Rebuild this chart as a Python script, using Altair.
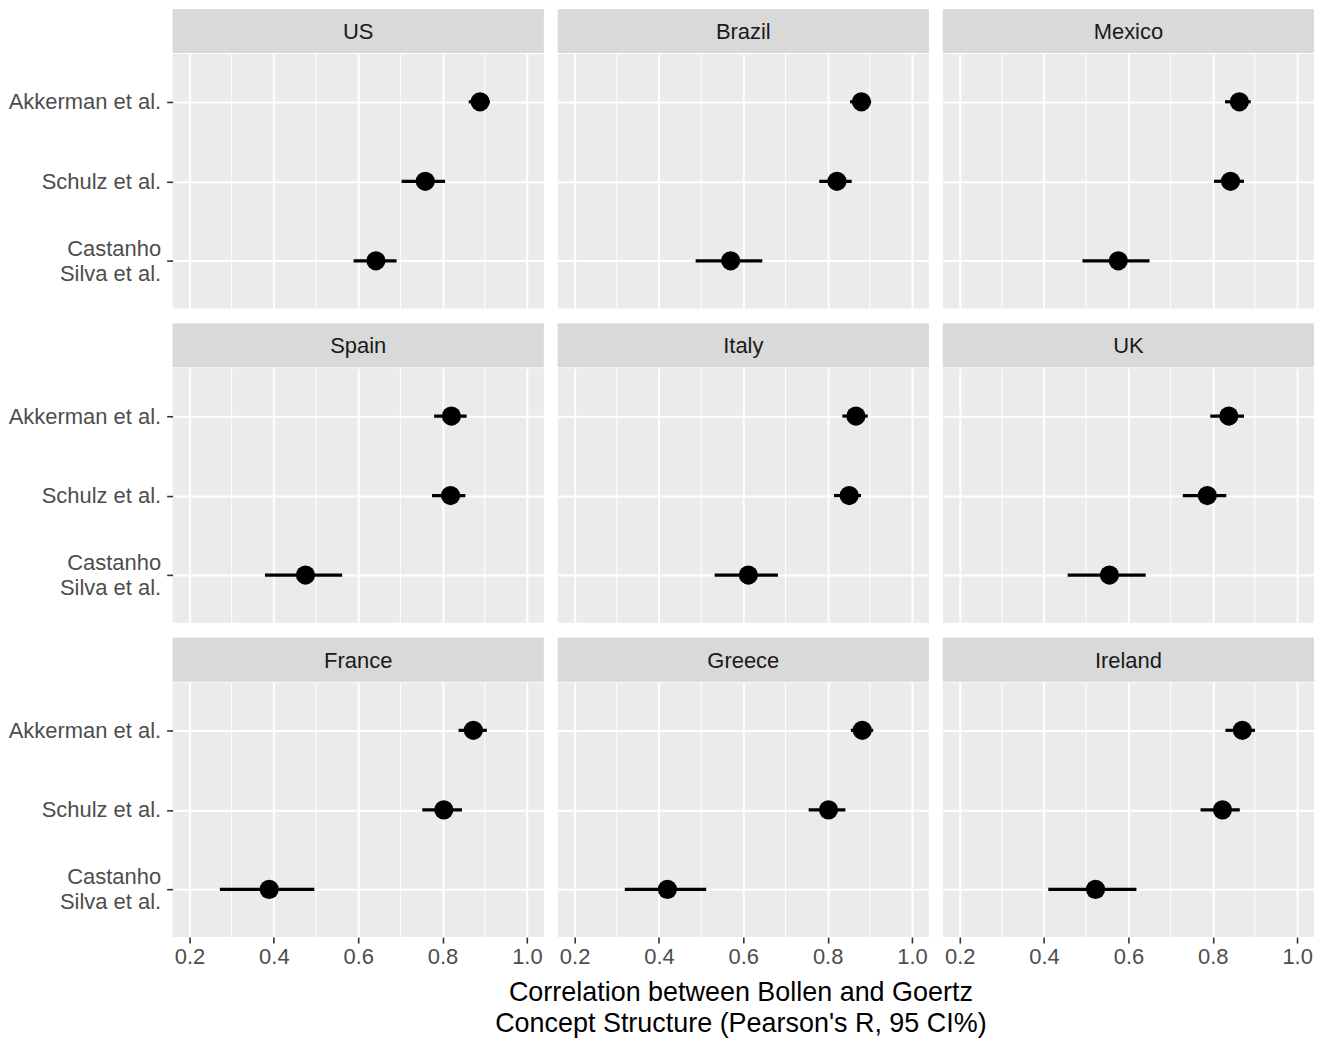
import altair as alt
import pandas as pd

countries = ["US", "Brazil", "Mexico", "Spain", "Italy", "UK", "France", "Greece", "Ireland"]
methods = ["Akkerman et al.", "Schulz et al.", "Castanho Silva et al."]

akk_est = [0.889, 0.880, 0.863, 0.821, 0.867, 0.838, 0.873, 0.882, 0.870]
akk_lo = [0.862, 0.853, 0.829, 0.780, 0.835, 0.794, 0.838, 0.855, 0.830]
akk_hi = [0.912, 0.903, 0.890, 0.857, 0.895, 0.874, 0.905, 0.908, 0.900]

sch_est = [0.759, 0.822, 0.842, 0.819, 0.851, 0.787, 0.803, 0.802, 0.823]
sch_lo = [0.703, 0.780, 0.803, 0.775, 0.815, 0.729, 0.752, 0.755, 0.771]
sch_hi = [0.806, 0.857, 0.874, 0.854, 0.879, 0.832, 0.846, 0.842, 0.864]

cs_est = [0.642, 0.570, 0.576, 0.475, 0.612, 0.555, 0.389, 0.420, 0.522]
cs_lo = [0.589, 0.487, 0.491, 0.379, 0.532, 0.456, 0.272, 0.319, 0.410]
cs_hi = [0.691, 0.645, 0.650, 0.562, 0.682, 0.641, 0.496, 0.512, 0.619]

major_ticks = [0.2, 0.4, 0.6, 0.8, 1.0]
minor_ticks = [0.3, 0.5, 0.7, 0.9]

x_title = ["Correlation between Bollen and Goertz", "Concept Structure (Pearson's R, 95 CI%)"]

rows = []
for i, c in enumerate(countries):
    for m, e, lo, hi in [
        (methods[0], akk_est, akk_lo, akk_hi),
        (methods[1], sch_est, sch_lo, sch_hi),
        (methods[2], cs_est, cs_lo, cs_hi),
    ]:
        rows.append({"country": c, "method": m, "est": e[i], "lo": lo[i], "hi": hi[i]})
df = pd.DataFrame(rows)
minor_df = pd.DataFrame({"v": minor_ticks})

W = 372
PH = 255
SH = 44
FONT = "Liberation Sans"

xscale = alt.Scale(domain=[0.16, 1.04], nice=False, zero=False)
yscale = alt.Scale(type="point", domain=methods, padding=0.6)

two_line = "datum.value == 'Castanho Silva et al.'"


def panel(country, col, row):
    show_y = col == 0
    show_x = row == 2
    xaxis = alt.Axis(
        values=major_ticks,
        format=".1f",
        labels=show_x,
        ticks=show_x,
        title=None,
        grid=True,
    )
    yaxis = alt.Axis(
        labels=show_y,
        ticks=show_y,
        title=None,
        grid=True,
        labelExpr=two_line + " ? ['Castanho', 'Silva et al.'] : datum.value",
        labelOffset=alt.condition(two_line, alt.value(-12.5), alt.value(0)),
    )
    d = df[df.country == country]
    base = alt.Chart(d)
    minor = alt.Chart(minor_df).mark_rule(color="white", strokeWidth=1.0).encode(
        x=alt.X("v:Q", scale=xscale, axis=xaxis)
    )
    bars = base.mark_rule(color="black", strokeWidth=3.2).encode(
        x=alt.X("lo:Q", scale=xscale, axis=xaxis),
        x2="hi:Q",
        y=alt.Y("method:N", scale=yscale, axis=yaxis, sort=methods),
    )
    pts = base.mark_circle(color="black", opacity=1, size=370).encode(
        x=alt.X("est:Q", scale=xscale, axis=xaxis),
        y=alt.Y("method:N", scale=yscale, axis=yaxis, sort=methods),
    )
    p = alt.layer(minor, bars, pts).properties(width=W, height=PH)

    sdf = pd.DataFrame({"country": [country]})
    srect = alt.Chart(sdf).mark_rect(color="#D9D9D9").encode(
        x=alt.value(0), x2=alt.value(W), y=alt.value(0), y2=alt.value(SH)
    )
    stext = alt.Chart(sdf).mark_text(
        font=FONT, fontSize=22, color="#1A1A1A", baseline="middle", align="center"
    ).encode(x=alt.value(W / 2), y=alt.value(SH / 2 + 1), text="country:N")
    strip = alt.layer(srect, stext).properties(width=W, height=SH)
    return alt.vconcat(strip, p, spacing=0)


grid_rows = []
for r in range(3):
    cells = [panel(countries[r * 3 + c], c, r) for c in range(3)]
    grid_rows.append(alt.hconcat(*cells, spacing=14))

chart = alt.vconcat(*grid_rows, spacing=14).properties(
    padding={"left": 0, "top": 0, "right": 0, "bottom": 0},
    background="white",
    title=alt.TitleParams(
        x_title,
        orient="bottom",
        anchor="middle",
        dx=80,
        offset=12,
        font=FONT,
        fontSize=27,
        fontWeight="normal",
        color="black",
        lineHeight=31,
    ),
).configure_view(fill="#EBEBEB", stroke=None).configure_axis(
    domain=False,
    gridColor="white",
    gridWidth=2.0,
    gridOpacity=1,
    labelFont=FONT,
    labelFontSize=22,
    labelColor="#4D4D4D",
    tickColor="#333333",
    tickWidth=1.6,
    tickSize=6,
    labelPadding=4,
).configure_axisY(
    labelPadding=6, labelLineHeight=25
)

chart.save("out.html", embed_options={"renderer": "svg", "actions": False})
